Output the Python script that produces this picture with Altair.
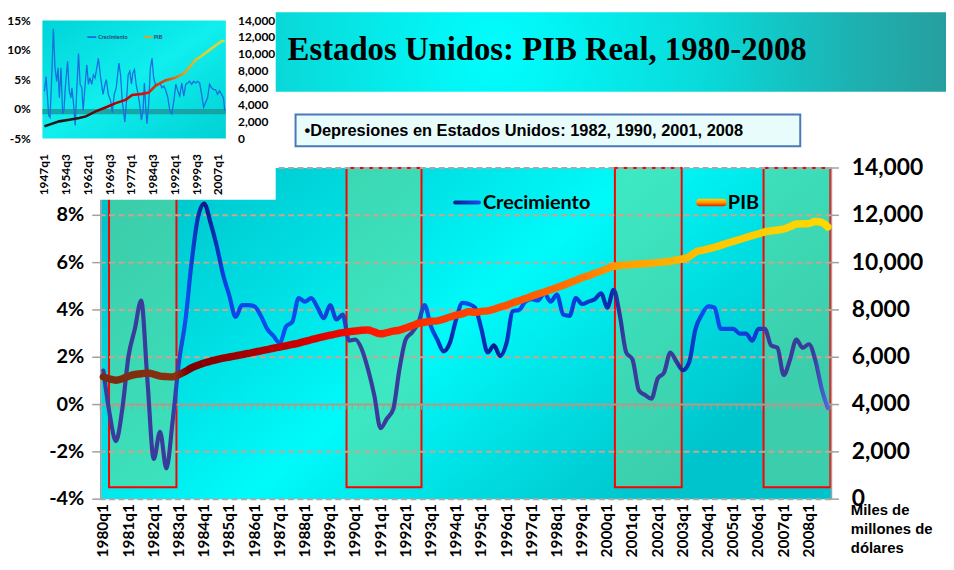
import altair as alt
import pandas as pd

# ---------------- main chart data (1980q1 .. 2008q4) ----------------
quarters = [f"{1980 + k // 4}q{k % 4 + 1}" for k in range(116)]
growth = [1.44, -0.4, -1.55, -0.2, 2.06, 3.2, 4.4, 1.0, -2.3, -1.15, -2.7, -0.7,
          1.8, 3.5, 6.0, 7.9, 8.5, 7.7, 6.7, 5.5, 4.6, 3.7, 4.2, 4.2,
          4.15, 3.75, 3.2, 2.9, 2.6, 3.3, 3.5, 4.5, 4.35, 4.5, 4.1, 3.65,
          4.2, 3.6, 3.8, 2.7, 2.75, 2.35, 1.5, 0.4, -1.0, -0.6, -0.2, 1.5,
          2.75, 3.05, 3.45, 4.2, 3.3, 2.75, 2.25, 2.6, 3.6, 4.3, 4.25, 4.1,
          3.2, 2.2, 2.5, 2.05, 2.6, 3.95, 4.0, 4.35, 4.45, 4.4, 4.7, 4.35,
          4.65, 3.8, 3.75, 4.5, 4.25, 4.35, 4.45, 4.7, 4.1, 4.85, 3.75, 2.2,
          1.9, 0.6, 0.4, 0.25, 1.1, 1.35, 2.2, 1.8, 1.45, 1.8, 3.2, 3.8,
          4.15, 4.1, 3.2, 3.2, 3.2, 3.0, 3.0, 2.7, 3.2, 3.2, 2.5, 2.4,
          1.25, 1.9, 2.75, 2.4, 2.55, 1.9, 0.7, -0.15]
pib = [5170, 5080, 5030, 5090, 5200, 5270, 5300, 5340, 5280, 5200, 5180, 5170,
       5270, 5400, 5550, 5660, 5760, 5830, 5900, 5960, 6010, 6060, 6110, 6160,
       6220, 6270, 6320, 6380, 6430, 6480, 6540, 6600, 6670, 6740, 6810, 6870,
       6930, 6990, 7040, 7080, 7110, 7140, 7150, 7070, 6990, 7040, 7100, 7150,
       7240, 7330, 7430, 7480, 7520, 7540, 7610, 7700, 7780, 7830, 7920, 7900,
       7940, 7960, 8030, 8120, 8200, 8300, 8390, 8480, 8580, 8670, 8760, 8850,
       8950, 9040, 9150, 9250, 9360, 9450, 9550, 9640, 9750, 9840, 9880, 9900,
       9920, 9940, 9960, 9975, 10000, 10030, 10060, 10110, 10160, 10250, 10440, 10520,
       10580, 10650, 10730, 10820, 10900, 10980, 11060, 11140, 11220, 11300, 11340, 11380,
       11420, 11520, 11630, 11640, 11650, 11740, 11700, 11510]

# recession boxes, in quarter-index units
rec_start = [0.9, 38.6, 81.2, 104.8]
rec_end = [11.6, 50.5, 91.8, 115.4]
rec_low = [-3.5, -3.5, -3.5, -3.5]
rec_high = [10, 10, 10, 10]

pct_ticks = [-4, -2, 0, 2, 4, 6, 8]
pib_ticks = [0, 2000, 4000, 6000, 8000, 10000, 12000, 14000]
grid_vals = [-2, 2, 4, 6, 8]
edge_vals = [-4, 10]
xlabel_idx = list(range(0, 116, 4))

# ---------------- inset chart data (1947 .. 2009) ----------------
inset_year = [1947.00, 1947.57, 1948.48, 1948.94, 1949.63, 1950.08, 1950.65, 1951.23, 1951.68, 1952.14,
              1952.71, 1953.28, 1953.74, 1954.19, 1954.99, 1955.57, 1956.14, 1956.48, 1956.94, 1957.62,
              1958.19, 1958.76, 1959.33, 1959.90, 1960.36, 1961.05, 1961.62, 1962.19, 1962.65, 1963.33,
              1963.90, 1964.47, 1965.04, 1965.61, 1966.41, 1967.21, 1967.90, 1968.36, 1969.04, 1969.84,
              1970.41, 1971.10, 1971.78, 1972.24, 1972.70, 1973.27, 1973.84, 1974.75, 1975.32, 1975.89,
              1976.46, 1977.03, 1977.49, 1978.06, 1978.63, 1979.32, 1980.00, 1980.46, 1981.03, 1981.49,
              1981.95, 1982.40, 1982.97, 1983.54, 1984.12, 1984.69, 1985.26, 1986.17, 1986.86, 1987.54,
              1988.23, 1988.91, 1989.60, 1990.28, 1990.97, 1991.65, 1992.34, 1993.02, 1993.71, 1994.39,
              1995.08, 1995.76, 1996.45, 1997.13, 1997.82, 1998.50, 1999.19, 1999.87, 2000.56, 2001.25,
              2001.93, 2002.62, 2003.30, 2003.99, 2004.67, 2005.36, 2006.04, 2006.73, 2007.41, 2008.10,
              2008.78, 2009.24]
inset_growth = [3.0, 5.5, -1.1, -1.4, 7.0, 13.6, 7.0, 4.7, 7.0, 1.9,
                7.0, -0.8, -0.3, 3.6, 8.1, 3.1, 1.9, 3.6, 1.4, -2.8,
                3.6, 9.4, 4.2, 3.6, -0.3, 4.2, 7.5, 4.2, 5.3, 4.2,
                5.8, 5.3, 6.9, 8.6, 5.3, 2.5, 4.2, 5.0, 2.5, 1.4,
                -0.6, 2.5, 3.6, 5.8, 7.8, 5.8, 1.4, -2.2, 1.4, 5.8,
                6.4, 4.2, 6.1, 6.7, 4.2, 2.5, 0.3, -1.9, -0.3, 4.4,
                0.3, -2.5, 0.8, 6.9, 8.6, 5.3, 4.2, 4.2, 4.4, 3.6,
                3.9, 3.1, 1.9, -0.3, -0.8, 1.4, 4.2, 3.1, 2.2, 4.4,
                2.2, 4.2, 4.4, 4.7, 4.2, 4.7, 4.4, 4.7, 4.4, 2.5,
                0.3, 1.1, 1.9, 4.2, 3.6, 3.3, 3.3, 2.5, 3.1, 2.5,
                1.9, -0.3]
inset_pib_year = [1947.0, 1948.7, 1952.1, 1955.6, 1959.0, 1961.3, 1964.7, 1968.1, 1971.6, 1975.0, 1977.3,
                  1980.7, 1983.0, 1985.3, 1988.7, 1992.1, 1995.5, 1999.0, 2001.2, 2004.7, 2008.1, 2009.2]
inset_pib = [1450, 1650, 2040, 2240, 2430, 2630, 3220, 3690, 4200, 4590, 5180,
             5300, 5450, 6250, 6900, 7200, 7800, 9300, 9800, 10700, 11550, 11600]
inset_pct_ticks = [-5, 0, 5, 10, 15]
inset_xtick_year = [1947.0, 1954.5, 1962.0, 1969.5, 1977.0, 1984.5, 1992.0, 1999.5, 2007.0]
inset_xtick_lab = ["1947q1", "1954q3", "1962q1", "1969q3", "1977q1", "1984q3", "1992q1", "1999q3", "2007q1"]

TITLE = "Estados Unidos: PIB Real, 1980-2008"
NOTE = "\u2022Depresiones en Estados Unidos:  1982, 1990, 2001, 2008"
UNITS = "Miles de\nmillones de\nd\u00f3lares"
LEG_G = "Crecimiento"
LEG_P = "PIB"

# ---------------- helpers ----------------
W, H = 737, 334
FONT = "Lato"
AXC = "#a0a0a0"


def lin(stops, x1=0, y1=0, x2=1, y2=0):
    return {"gradient": "linear", "x1": x1, "y1": y1, "x2": x2, "y2": y2,
            "stops": [{"offset": o, "color": c} for o, c in stops]}


def rad(stops, cx, cy, r):
    return {"gradient": "radial", "x1": cx, "y1": cy, "r1": 0, "x2": cx, "y2": cy, "r2": r,
            "stops": [{"offset": o, "color": c} for o, c in stops]}


one = pd.DataFrame({"k": [0]})


def box(x1, x2, y1, y2, **kw):
    return alt.Chart(one).mark_rect(**kw).encode(
        x=alt.value(x1), x2=alt.value(x2), y=alt.value(y1), y2=alt.value(y2))


def label(x, y, txt, **kw):
    return alt.Chart(one).mark_text(text=txt, **kw).encode(x=alt.value(x), y=alt.value(y))


main_df = pd.DataFrame({"i": list(range(116)), "q": quarters, "g": growth, "p": pib})
x_main = alt.Scale(domain=[-0.5, 115.5], nice=False, zero=False)
y_pct = alt.Scale(domain=[-4, 10], nice=False, zero=False)
y_pib = alt.Scale(domain=[0, 14000], nice=False, zero=False)

# ---------------- main layer ----------------
plot_bg = box(1, W, 0, H, fill=lin([(0, "#00bcc4"), (0.35, "#00e0e4"), (0.57, "#00fafa"),
                                     (0.8, "#00dce0"), (1, "#00c4cc")], 0, 0, 1, 0.545))

rec_df = pd.DataFrame({"s": rec_start, "e": rec_end, "lo": rec_low, "hi": rec_high})
boxes = alt.Chart(rec_df).mark_rect(fill="#78d78c", fillOpacity=0.5, stroke="#ff0000",
                                    strokeWidth=2).encode(
    x=alt.X("s:Q", scale=x_main, axis=None), x2="e:Q",
    y=alt.Y("hi:Q", scale=y_pct, axis=None), y2="lo:Q")

grid = alt.Chart(pd.DataFrame({"v": grid_vals})).mark_rule(
    color="#c9a48e", strokeWidth=2, strokeDash=[6, 3.5]).encode(
    y=alt.Y("v:Q", scale=y_pct, axis=None))
edges = alt.Chart(pd.DataFrame({"v": edge_vals})).mark_rule(
    color="#a8a8a8", strokeWidth=2, strokeDash=[6, 3.5]).encode(
    y=alt.Y("v:Q", scale=y_pct, axis=None))

zline = alt.Chart(pd.DataFrame({"v": [0]})).mark_rule(color="#b09a8a", strokeWidth=2).encode(
    y=alt.Y("v:Q", scale=y_pct, axis=None))
tick_df = pd.DataFrame({"b": [k - 0.5 for k in range(117)], "t0": 0.0, "t1": -0.22})
zticks = alt.Chart(tick_df).mark_rule(color="#b09a8a", strokeWidth=1).encode(
    x=alt.X("b:Q", scale=x_main, axis=None),
    y=alt.Y("t0:Q", scale=y_pct, axis=None), y2="t1:Q")

# left axis (percent)
left_dom = alt.Chart(one).mark_rule(color=AXC, strokeWidth=1.5).encode(
    x=alt.value(0.5), y=alt.value(0), y2=alt.value(H))
pct_df = pd.DataFrame({"v": pct_ticks, "s": [f"{v}%" for v in pct_ticks]})
left_ticks = alt.Chart(pct_df).mark_rule(color=AXC, strokeWidth=1.5).encode(
    x=alt.value(-8), x2=alt.value(0), y=alt.Y("v:Q", scale=y_pct, axis=None))
left_labels = alt.Chart(pct_df).mark_text(
    font=FONT, fontSize=20, fontWeight="bold", align="right", baseline="middle",
    color="black").encode(x=alt.value(-16), y=alt.Y("v:Q", scale=y_pct, axis=None), text="s:N")

# bottom axis labels (quarters)
xl_df = pd.DataFrame({"i": xlabel_idx, "s": [quarters[k] for k in xlabel_idx]})
x_labels = alt.Chart(xl_df).mark_text(
    font=FONT, fontSize=15.5, fontWeight="bold", align="right", baseline="middle", angle=270,
    color="black").encode(x=alt.X("i:Q", scale=x_main, axis=None), y=alt.value(H + 5),
                          text="s:N")

SL = "#3a3c9c"
grad_g = lin([(0.0, SL), (0.095, SL), (0.115, "#0a50f5"), (0.14, "#0a1a88"), (0.17, "#0a45e8"),
              (0.25, "#0a50f0"), (0.32, "#1040d8"), (0.345, SL), (0.43, SL), (0.45, "#0a50f0"),
              (0.475, "#0a2098"), (0.50, "#0a50f5"), (0.54, "#0a1a90"), (0.58, "#0a50f5"),
              (0.66, "#0a3ad0"), (0.70, "#0a2aa8"), (0.72, SL), (0.79, SL), (0.80, "#0a2aa0"),
              (0.83, "#0a50f5"), (0.90, "#1238d0"), (0.915, SL), (0.98, SL), (1.0, "#4a6ae0")])
gline = alt.Chart(main_df).mark_line(stroke=grad_g, strokeWidth=4.2, interpolate="monotone",
                                     strokeCap="round", strokeJoin="round").encode(
    x=alt.X("i:Q", scale=x_main, axis=None),
    y=alt.Y("g:Q", scale=y_pct, axis=None))

main = alt.layer(plot_bg, boxes, grid, edges, zline, zticks, left_dom, left_ticks,
                 left_labels, x_labels, gline)

# PIB (right axis)
grad_p = lin([(0.0, "#7a2a10"), (0.10, "#8a3010"), (0.115, "#7a0000"), (0.22, "#b00000"),
              (0.30, "#e00000"), (0.37, "#ff1800"), (0.48, "#ff3c00"), (0.58, "#ff5a00"),
              (0.66, "#ff7800"), (0.72, "#ffa000"), (0.78, "#ffb000"), (0.85, "#ffc800"),
              (1.0, "#ffd800")])
pline = alt.Chart(main_df).mark_line(stroke=grad_p, strokeWidth=7.5, interpolate="monotone",
                                     strokeCap="round", strokeJoin="round").encode(
    x=alt.X("i:Q", scale=x_main, axis=None),
    y=alt.Y("p:Q", scale=y_pib, axis=None))
pib_df = pd.DataFrame({"v": pib_ticks})
right_dom = alt.Chart(one).mark_rule(color=AXC, strokeWidth=1.5).encode(
    x=alt.value(W + 0.5), y=alt.value(0), y2=alt.value(H))
right_ticks = alt.Chart(pib_df).mark_rule(color=AXC, strokeWidth=1.5).encode(
    x=alt.value(W), x2=alt.value(W + 8), y=alt.Y("v:Q", scale=y_pib, axis=None))
right_labels = alt.Chart(pib_df).mark_text(
    font=FONT, fontSize=23, fontWeight="bold", align="left", baseline="middle",
    color="black").encode(x=alt.value(W + 21), y=alt.Y("v:Q", scale=y_pib, axis=None),
                          text=alt.Text("v:Q", format=","))
pib_layer = alt.layer(right_dom, right_ticks, right_labels, pline)

# legend of main chart
leg_g_sample = box(356, 384, 32.7, 36.9, cornerRadius=2,
                   fill=lin([(0, "#101c8c"), (1, "#2448f0")]))
leg_g_text = label(386, 35, LEG_G, font=FONT, fontSize=20, fontWeight="bold",
                   align="left", baseline="middle", color="black")
leg_p_sample = box(601, 632, 31, 38.5, cornerRadius=3.5,
                   fill=lin([(0, "#ffd400"), (0.5, "#ff9a00"), (1, "#e82000")], 0, 0, 0, 1))
leg_p_text = label(633, 35, LEG_P, font=FONT, fontSize=20, fontWeight="bold",
                   align="left", baseline="middle", color="black")

# ---------------- slide decorations ----------------
banner = box(174, 853, -157, -77,
             fill=rad([(0, "#00ffff"), (0.45, "#0ad8d8"), (0.75, "#1eb0b0"), (1, "#2a9898")],
                      0.33, 0.5, 0.72))
title = label(189, -119, TITLE, font="Liberation Serif", fontSize=33, fontWeight="bold",
              align="left", baseline="middle", color="black")
note_box = box(197, 706, -54, -22, fill="#e8fcfc", stroke="#4a78b8", strokeWidth=2)
note = label(206, -37.5, NOTE, font="Liberation Sans", fontSize=16.5, fontWeight="bold",
             align="left", baseline="middle", color="black")
units = label(757, 338, UNITS, font="Liberation Sans", fontSize=15, fontWeight="bold",
              align="left", baseline="top", color="black", lineHeight=19, lineBreak="\n")

# ---------------- inset chart ----------------
x_in = alt.Scale(domain=[1946.3, 2009.6], range=[-58.3, 126.7], nice=False, zero=False)
y_in_g = alt.Scale(domain=[-5, 15], range=[-29.7, -148.7], nice=False, zero=False)
y_in_p = alt.Scale(domain=[0, 14000], range=[-29.7, -148.7], nice=False, zero=False)

inset_white = box(-93, 177, -159, 32, fill="white")
inset_bg = box(-58.3, 126.7, -148.7, -29.7,
               fill=lin([(0, "#00d4d8"), (0.5, "#10eeee"), (1, "#00d0d4")], 0, 0, 1, 1))
strip = alt.Chart(pd.DataFrame({"lo": [-0.9], "hi": [0.0]})).mark_rect(
    fill="#1a9a9c", opacity=0.85).encode(
    x=alt.value(-58.3), x2=alt.value(126.7),
    y=alt.Y("hi:Q", scale=y_in_g, axis=None), y2="lo:Q")
in_g_df = pd.DataFrame({"t": inset_year, "g": inset_growth})
in_gline = alt.Chart(in_g_df).mark_line(color="#1a6ee0", strokeWidth=1.3).encode(
    x=alt.X("t:Q", scale=x_in, axis=None), y=alt.Y("g:Q", scale=y_in_g, axis=None))
in_left = alt.Chart(pd.DataFrame({"v": inset_pct_ticks,
                                  "s": [f"{v}%" for v in inset_pct_ticks]})).mark_text(
    font=FONT, fontSize=12, fontWeight="bold", align="right", baseline="middle",
    color="black").encode(x=alt.value(-70), y=alt.Y("v:Q", scale=y_in_g, axis=None), text="s:N")
in_xlab = alt.Chart(pd.DataFrame({"t": inset_xtick_year, "s": inset_xtick_lab})).mark_text(
    font=FONT, fontSize=12, fontWeight="bold", align="right", baseline="middle", angle=270,
    color="black").encode(x=alt.X("t:Q", scale=x_in, axis=None), y=alt.value(-14), text="s:N")
inset_a = alt.layer(inset_white, inset_bg, strip, in_gline, in_left, in_xlab)

grad_ip = lin([(0, "#1a1a1a"), (0.22, "#3a1010"), (0.35, "#a00000"), (0.55, "#d81010"),
               (0.68, "#e04a10"), (0.78, "#e0a020"), (0.88, "#e0d030"), (1.0, "#c8dc48")])
in_p_df = pd.DataFrame({"t": inset_pib_year, "p": inset_pib})
in_pline = alt.Chart(in_p_df).mark_line(stroke=grad_ip, strokeWidth=2.6).encode(
    x=alt.X("t:Q", scale=x_in, axis=None), y=alt.Y("p:Q", scale=y_in_p, axis=None))
in_right = alt.Chart(pd.DataFrame({"v": pib_ticks})).mark_text(
    font=FONT, fontSize=12, fontWeight="bold", align="left", baseline="middle",
    color="black").encode(x=alt.value(139), y=alt.Y("v:Q", scale=y_in_p, axis=None),
                          text=alt.Text("v:Q", format=","))
inset_b = alt.layer(in_pline, in_right)

in_leg = [
    box(-13, -4, -132.8, -131.2, fill="#1a60e0"),
    label(-2, -132, LEG_G, font=FONT, fontSize=5.5, fontWeight="bold", align="left",
          baseline="middle", color="#2a4070"),
    box(44, 52, -133, -131, fill="#e0a020"),
    label(54, -132, LEG_P, font=FONT, fontSize=5.5, fontWeight="bold", align="left",
          baseline="middle", color="#2a4070"),
]

chart = alt.layer(
    main, pib_layer, leg_g_sample, leg_g_text, leg_p_sample, leg_p_text,
    banner, title, note_box, note, units,
    inset_a, inset_b, *in_leg,
).resolve_scale(x="independent", y="independent").properties(
    width=W, height=H,
    autosize=alt.AutoSizeParams(type="none"),
    padding={"left": 93, "top": 159, "right": 116, "bottom": 61},
    background="white",
).configure_view(stroke=None)

chart.save("out.html", embed_options={"renderer": "svg", "actions": False})
